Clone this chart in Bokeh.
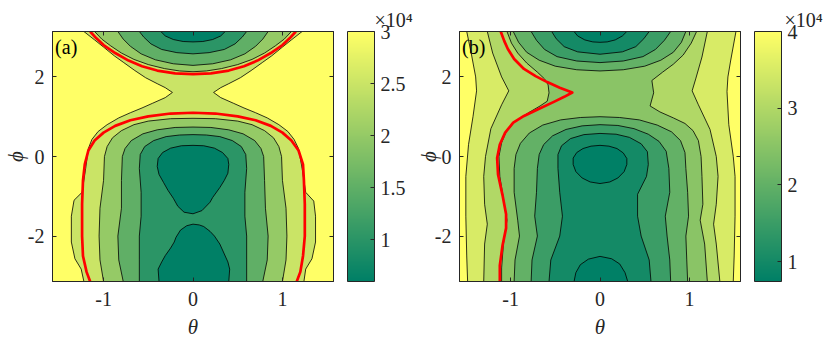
import numpy as np
from bokeh.plotting import figure
from bokeh.models import ColorBar, LinearColorMapper, FixedTicker, LinearAxis, Label, Range1d
from bokeh.layouts import row
from bokeh.embed import file_html
from bokeh.resources import INLINE

PI = float(np.pi)

# ---------------- panel (a): contour lines (theta, phi) ----------------
A_VMIN, A_VMAX = 0.6, 3.0
A_CB_TICKS = [1.0, 1.5, 2.0, 2.5, 3.0]
A_CB_LABELS = ["1", "1.5", "2", "2.5", "3"]

A_30_L = [(-1.22, PI), (-1.10, 2.93), (-1.00, 2.75), (-0.88, 2.53), (-0.78, 2.37), (-0.65, 2.16),
          (-0.53, 1.98), (-0.40, 1.83), (-0.31, 1.73), (-0.23, 1.61), (-0.31, 1.48), (-0.45, 1.34),
          (-0.57, 1.22), (-0.70, 1.10), (-0.83, 0.97), (-0.96, 0.80), (-1.06, 0.63), (-1.13, 0.43),
          (-1.17, 0.20), (-1.20, -0.30), (-1.24, -0.90), (-1.33, -1.10), (-1.36, -1.50), (-1.36, -2.15),
          (-1.32, -2.57), (-1.25, -2.83), (-1.22, -PI)]
A_30_R = [(1.22, PI), (1.10, 2.93), (1.00, 2.75), (0.88, 2.53), (0.78, 2.37), (0.65, 2.16),
          (0.53, 1.98), (0.40, 1.83), (0.31, 1.73), (0.23, 1.61), (0.31, 1.48), (0.45, 1.34),
          (0.57, 1.22), (0.70, 1.10), (0.83, 0.97), (0.96, 0.80), (1.06, 0.63), (1.13, 0.43),
          (1.18, 0.20), (1.22, -0.30), (1.26, -0.90), (1.35, -1.12), (1.37, -1.50), (1.37, -2.15),
          (1.33, -2.57), (1.26, -2.83), (1.24, -PI)]
A_25_TOP = [(-1.10, PI), (-1.02, 2.95), (-0.92, 2.78), (-0.80, 2.60), (-0.66, 2.44), (-0.50, 2.31),
            (-0.32, 2.21), (-0.15, 2.15), (0.0, 2.13), (0.15, 2.15), (0.32, 2.21), (0.50, 2.31),
            (0.66, 2.44), (0.80, 2.60), (0.92, 2.78), (1.02, 2.95), (1.10, PI)]
A_20_TOP = [(-0.84, PI), (-0.78, 2.95), (-0.70, 2.77), (-0.58, 2.58), (-0.42, 2.43), (-0.22, 2.33),
            (0.0, 2.29), (0.22, 2.33), (0.42, 2.43), (0.58, 2.58), (0.70, 2.77), (0.78, 2.95), (0.84, PI)]
A_15_TOP = [(-0.60, PI), (-0.55, 3.00), (-0.47, 2.83), (-0.35, 2.69), (-0.18, 2.61), (0.0, 2.58),
            (0.18, 2.61), (0.35, 2.69), (0.47, 2.83), (0.55, 3.00), (0.60, PI)]
A_10_TOP = [(-0.36, PI), (-0.31, 3.03), (-0.22, 2.94), (-0.11, 2.89), (0.0, 2.88), (0.11, 2.89),
            (0.22, 2.94), (0.31, 3.03), (0.36, PI)]
A_25_MAIN = [(-1.00, -PI), (-1.04, -2.6), (-1.05, -2.0), (-1.04, -1.3), (-1.00, -0.6), (-0.99, 0.0),
             (-0.96, 0.25), (-0.90, 0.47), (-0.80, 0.65), (-0.66, 0.80), (-0.50, 0.89), (-0.25, 0.95),
             (0.0, 0.96), (0.25, 0.95), (0.50, 0.89), (0.66, 0.80), (0.80, 0.65), (0.90, 0.47),
             (0.96, 0.25), (0.99, 0.0), (1.00, -0.6), (1.04, -1.3), (1.05, -2.0), (1.04, -2.6), (1.00, -PI)]
A_20_MAIN = [(-0.78, -PI), (-0.83, -2.6), (-0.84, -2.0), (-0.80, -1.3), (-0.80, -0.6), (-0.79, 0.0),
             (-0.76, 0.20), (-0.69, 0.40), (-0.56, 0.57), (-0.40, 0.67), (-0.20, 0.73), (0.0, 0.74),
             (0.20, 0.73), (0.40, 0.67), (0.56, 0.57), (0.69, 0.40), (0.76, 0.20), (0.79, 0.0),
             (0.80, -0.6), (0.81, -1.3), (0.84, -2.0), (0.83, -2.6), (0.78, -PI)]
A_15_MAIN = [(-0.60, -PI), (-0.60, -2.6), (-0.60, -2.0), (-0.58, -1.5), (-0.58, -0.9), (-0.60, -0.3),
             (-0.59, 0.05), (-0.54, 0.25), (-0.44, 0.40), (-0.30, 0.50), (-0.15, 0.54), (0.0, 0.55),
             (0.15, 0.54), (0.30, 0.50), (0.44, 0.40), (0.54, 0.25), (0.59, 0.05), (0.60, -0.3),
             (0.58, -0.9), (0.58, -1.5), (0.60, -2.0), (0.60, -2.6), (0.60, -PI)]
A_10_UP = [(0.0, 0.28), (0.12, 0.27), (0.24, 0.21), (0.33, 0.10), (0.39, -0.05), (0.40, -0.20),
           (0.39, -0.42), (0.35, -0.60), (0.30, -0.78), (0.22, -1.03), (0.19, -1.15), (0.10, -1.36),
           (0.0, -1.44), (-0.10, -1.40), (-0.17, -1.25), (-0.22, -1.05), (-0.28, -0.85), (-0.33, -0.65),
           (-0.38, -0.45), (-0.40, -0.25), (-0.39, -0.05), (-0.34, 0.10), (-0.25, 0.21), (-0.13, 0.27),
           (0.0, 0.28)]
A_10_LOW = [(-0.38, -PI), (-0.39, -2.83), (-0.35, -2.65), (-0.31, -2.49), (-0.25, -2.30), (-0.21, -2.15),
            (-0.19, -2.03), (-0.14, -1.85), (-0.07, -1.74), (0.0, -1.70), (0.07, -1.72), (0.12, -1.76),
            (0.19, -1.88), (0.24, -2.00), (0.30, -2.20), (0.35, -2.45), (0.39, -2.65), (0.41, -2.83),
            (0.40, -PI)]
A_RED_TOP = [(-1.15, PI), (-1.08, 2.97), (-1.00, 2.80), (-0.87, 2.60), (-0.72, 2.41), (-0.57, 2.27),
             (-0.40, 2.16), (-0.20, 2.09), (0.0, 2.07), (0.20, 2.09), (0.40, 2.16), (0.57, 2.27),
             (0.72, 2.41), (0.87, 2.60), (1.00, 2.80), (1.08, 2.97), (1.15, PI)]
A_RED_MAIN = [(-1.15, -PI), (-1.19, -2.9), (-1.23, -2.5), (-1.24, -2.0), (-1.24, -1.2), (-1.23, -0.6),
              (-1.21, -0.2), (-1.17, 0.15), (-1.10, 0.40), (-1.00, 0.60), (-0.87, 0.77), (-0.70, 0.91),
              (-0.50, 1.01), (-0.25, 1.08), (0.0, 1.10), (0.25, 1.08), (0.50, 1.01), (0.70, 0.91),
              (0.87, 0.77), (1.00, 0.60), (1.10, 0.40), (1.18, 0.15), (1.23, -0.2), (1.24, -0.6),
              (1.25, -1.2), (1.25, -2.0), (1.23, -2.5), (1.20, -2.9), (1.16, -PI)]

# ---------------- panel (b) ----------------
B_VMIN, B_VMAX = 0.74, 4.0
B_CB_TICKS = [1.0, 2.0, 3.0, 4.0]
B_CB_LABELS = ["1", "2", "3", "4"]

B_40_L = [(-1.49, PI), (-1.44, 2.6), (-1.39, 2.0), (-1.38, 1.65), (-1.42, 1.0), (-1.47, 0.3),
          (-1.50, -0.5), (-1.50, -1.5), (-1.49, -2.5), (-1.48, -PI)]
B_40_R = [(1.52, PI), (1.46, 2.4), (1.43, 2.0), (1.42, 1.63), (1.44, 0.8), (1.49, 0.0),
          (1.51, -0.5), (1.51, -1.5), (1.50, -2.5), (1.49, -PI)]
B_35_L = [(-1.26, PI), (-1.20, 2.6), (-1.10, 2.0), (-1.02, 1.65), (-1.10, 1.3), (-1.22, 0.7),
          (-1.28, 0.0), (-1.30, -0.5), (-1.29, -1.2), (-1.26, -1.7), (-1.29, -2.2), (-1.30, -PI)]
B_35_R = [(1.20, PI), (1.14, 2.5), (1.07, 1.95), (1.03, 1.65), (1.10, 1.3), (1.23, 0.68),
          (1.30, 0.0), (1.32, -0.5), (1.30, -1.2), (1.27, -1.7), (1.30, -2.2), (1.34, -PI)]
B_30_L = [(-1.04, PI), (-0.99, 2.85), (-0.92, 2.60), (-0.82, 2.35), (-0.70, 2.12), (-0.62, 1.95),
          (-0.58, 1.80), (-0.57, 1.60), (-0.59, 1.39), (-0.67, 1.27), (-0.80, 1.10), (-0.95, 0.88),
          (-1.05, 0.62), (-1.10, 0.35), (-1.13, 0.0), (-1.12, -0.5), (-1.07, -1.2), (-1.04, -1.6),
          (-1.08, -2.2), (-1.10, -2.8), (-1.10, -PI)]
B_30_R = [(1.08, PI), (1.02, 2.85), (0.93, 2.55), (0.82, 2.32), (0.70, 2.12), (0.58, 1.91),
          (0.60, 1.60), (0.56, 1.27), (0.67, 1.12), (0.82, 0.97), (0.95, 0.83), (1.04, 0.65),
          (1.10, 0.40), (1.13, 0.0), (1.14, -0.5), (1.15, -1.2), (1.12, -1.6), (1.17, -2.2), (1.20, -PI)]
B_25_TOP = [(-0.97, PI), (-0.91, 2.87), (-0.82, 2.62), (-0.68, 2.42), (-0.50, 2.27), (-0.26, 2.18),
            (0.0, 2.15), (0.26, 2.18), (0.50, 2.27), (0.68, 2.42), (0.82, 2.62), (0.91, 2.87), (0.96, PI)]
B_20_TOP = [(-0.77, PI), (-0.71, 2.92), (-0.62, 2.69), (-0.48, 2.51), (-0.26, 2.40), (0.0, 2.36),
            (0.26, 2.40), (0.48, 2.51), (0.62, 2.69), (0.72, 2.92), (0.79, PI)]
B_15_TOP = [(-0.54, PI), (-0.49, 2.96), (-0.40, 2.76), (-0.25, 2.63), (0.0, 2.57), (0.25, 2.63),
            (0.40, 2.76), (0.49, 2.96), (0.55, PI)]
B_10_TOP = [(-0.29, PI), (-0.25, 3.03), (-0.17, 2.93), (-0.08, 2.88), (0.0, 2.87), (0.08, 2.88),
            (0.17, 2.93), (0.25, 3.03), (0.30, PI)]
B_25_MAIN = [(-0.96, -PI), (-0.95, -2.6), (-0.90, -2.0), (-0.92, -1.6), (-0.96, -0.9), (-0.96, -0.3),
             (-0.94, 0.05), (-0.89, 0.33), (-0.79, 0.59), (-0.64, 0.79), (-0.44, 0.92), (-0.22, 0.98),
             (0.0, 1.00), (0.22, 0.98), (0.44, 0.92), (0.64, 0.79), (0.80, 0.62), (0.90, 0.40),
             (0.95, 0.10), (0.96, -0.3), (0.98, -0.9), (0.99, -1.5), (0.96, -2.0), (0.97, -2.6), (0.98, -PI)]
B_20_MAIN = [(-0.77, -PI), (-0.76, -2.6), (-0.70, -2.0), (-0.73, -1.5), (-0.71, -0.9), (-0.70, -0.3),
             (-0.68, 0.05), (-0.63, 0.30), (-0.53, 0.52), (-0.38, 0.68), (-0.20, 0.77), (0.0, 0.80),
             (0.20, 0.78), (0.38, 0.70), (0.54, 0.56), (0.66, 0.38), (0.74, 0.13), (0.77, -0.3),
             (0.78, -0.9), (0.73, -1.5), (0.75, -2.0), (0.78, -2.6), (0.79, -PI)]
B_15_MAIN = [(-0.57, -PI), (-0.55, -2.6), (-0.45, -2.0), (-0.42, -1.5), (-0.45, -0.9), (-0.47, -0.3),
             (-0.47, 0.05), (-0.43, 0.27), (-0.33, 0.45), (-0.18, 0.55), (0.0, 0.58), (0.18, 0.56),
             (0.33, 0.48), (0.46, 0.32), (0.53, 0.12), (0.54, -0.2), (0.52, -0.5), (0.42, -0.95),
             (0.42, -1.5), (0.46, -2.0), (0.55, -2.6), (0.57, -PI)]
B_10_BLOB = [(0.0, 0.28), (0.10, 0.26), (0.19, 0.20), (0.26, 0.09), (0.30, -0.05), (0.30, -0.20),
             (0.27, -0.38), (0.20, -0.54), (0.11, -0.64), (0.0, -0.68), (-0.11, -0.64), (-0.20, -0.54),
             (-0.27, -0.38), (-0.30, -0.20), (-0.30, -0.04), (-0.26, 0.10), (-0.19, 0.20), (-0.10, 0.26),
             (0.0, 0.28)]
B_10_BOT = [(-0.29, -PI), (-0.27, -2.92), (-0.22, -2.72), (-0.13, -2.58), (0.0, -2.51), (0.13, -2.57),
            (0.22, -2.70), (0.28, -2.92), (0.31, -PI)]
B_RED = [(-1.11, PI), (-1.07, 2.90), (-1.03, 2.70), (-0.96, 2.45), (-0.85, 2.20), (-0.72, 2.02),
         (-0.59, 1.87), (-0.45, 1.73), (-0.31, 1.61), (-0.40, 1.50), (-0.51, 1.38), (-0.68, 1.20),
         (-0.85, 1.02), (-0.97, 0.85), (-1.06, 0.60), (-1.12, 0.30), (-1.15, -0.04), (-1.14, -0.45),
         (-1.09, -0.97), (-1.05, -1.45), (-1.05, -1.80), (-1.09, -2.24), (-1.12, -2.74), (-1.12, -PI)]

FONT = "Liberation Serif"
INK = "#262626"
FW, FH = 281, 250                      # frame size in px
XU, YU = FW / PI, FH / (2 * PI)        # px per data unit


def summer(v, vmin, vmax):
    t = min(max((v - vmin) / (vmax - vmin), 0.0), 1.0)
    return "#%02x%02x%02x" % (round(t * 255), round((0.5 + 0.5 * t) * 255), round(0.4 * 255))


def xs_of(pts):
    return [q[0] for q in pts]


def ys_of(pts):
    return [q[1] for q in pts]


def band(left, right):
    return list(left) + list(reversed(right))


def make_panel(tag, fills, blacks, reds, vmin, vmax, cb_ticks, cb_labels,
               border_left, border_right, y_label_standoff, title_offset):
    p = figure(frame_width=FW, frame_height=FH, x_range=Range1d(-PI / 2, PI / 2),
               y_range=Range1d(-PI, PI), output_backend="svg", toolbar_location=None,
               min_border_left=border_left, min_border_right=border_right, min_border_top=31,
               min_border_bottom=60)
    p.grid.visible = False
    p.outline_line_color = INK
    p.background_fill_color = summer(vmax, vmin, vmax)
    p.border_fill_color = "white"

    # colour-bar exponent, placed above the colour bar
    p.title.text = "×10⁴"
    p.title.align = "left"
    p.title.offset = title_offset
    p.title.standoff = 1
    p.title.text_font = FONT
    p.title.text_font_size = "20px"
    p.title.text_font_style = "normal"
    p.title.text_color = INK

    for level, polys, lowest in fills:
        c = summer(vmin if lowest else level - 0.5, vmin, vmax)
        p.patches([xs_of(q) for q in polys], [ys_of(q) for q in polys],
                  fill_color=c, line_color=None)
    p.multi_line([xs_of(q) for q in blacks], [ys_of(q) for q in blacks],
                 line_color="black", line_width=0.8)
    for r in reds:
        p.line(xs_of(r), ys_of(r), line_color="#ff0000", line_width=2.7, line_join="round")

    xt = [-1, 0, 1]
    yt = [-2, 0, 2]
    xb = p.below[0]
    yl = p.left[0]
    xb.ticker = FixedTicker(ticks=xt)
    yl.ticker = FixedTicker(ticks=yt)
    xb.major_label_overrides = {-1: "-1", 0: "0", 1: "1"}
    yl.major_label_overrides = {-2: "-2", 0: "0", 2: "2"}
    top = LinearAxis(ticker=FixedTicker(ticks=xt), major_label_text_font_size="0px",
                     major_label_text_color=None, major_label_standoff=0)
    # right axis: tick marks only (blank labels); its extent leaves the gap before the colour bar
    right = LinearAxis(ticker=FixedTicker(ticks=yt),
                       major_label_overrides={-2: "\u2002", 0: "\u2002", 2: "\u2002"},
                       major_label_text_font_size="20px", major_label_text_color=INK,
                       major_label_standoff=1)
    p.add_layout(top, "above")
    p.add_layout(right, "right")
    for ax in (xb, yl, top, right):
        ax.major_tick_in = 4
        ax.major_tick_out = 0
        ax.minor_tick_line_color = None
        ax.axis_line_color = INK
        ax.major_tick_line_color = INK
    for ax in (xb, yl):
        ax.major_label_text_font = FONT
        ax.major_label_text_font_size = "20px"
        ax.major_label_text_color = INK
        ax.axis_label_text_font = FONT
        ax.axis_label_text_font_style = "italic"
        ax.axis_label_text_font_size = "21px"
        ax.axis_label_text_color = INK
    xb.major_label_standoff = 10
    yl.major_label_standoff = 8
    xb.axis_label = "θ"
    yl.axis_label = "ϕ"
    xb.axis_label_standoff = 6
    yl.axis_label_standoff = y_label_standoff

    pal = [summer(vmin + (vmax - vmin) * i / 255, vmin, vmax) for i in range(256)]
    mapper = LinearColorMapper(palette=pal, low=vmin, high=vmax)
    cb = ColorBar(color_mapper=mapper, ticker=FixedTicker(ticks=cb_ticks),
                  major_label_overrides={t: s for t, s in zip(cb_ticks, cb_labels)},
                  width=27, height=FH, padding=0, margin=0,
                  major_tick_in=4, major_tick_out=0, major_tick_line_color=INK,
                  minor_tick_line_color=None,
                  bar_line_color=INK, label_standoff=6,
                  major_label_text_font=FONT, major_label_text_font_size="20px",
                  major_label_text_color=INK, border_line_color=None)
    p.add_layout(cb, "right")

    x0, y0 = -PI / 2, PI
    p.add_layout(Label(x=x0 + 2.6 / XU, y=y0 - 4.5 / YU, text=tag, text_baseline="top",
                       text_font=FONT, text_font_size="20px", text_color="black"))
    return p


a_fills = [
    (3.0, [band(A_30_L, A_30_R)], False),
    (2.5, [A_25_TOP, A_25_MAIN], False),
    (2.0, [A_20_TOP, A_20_MAIN], False),
    (1.5, [A_15_TOP, A_15_MAIN], False),
    (1.0, [A_10_TOP, A_10_UP, A_10_LOW], True),
]
a_blacks = [A_30_L, A_30_R, A_25_TOP, A_20_TOP, A_15_TOP, A_10_TOP, A_25_MAIN, A_20_MAIN,
            A_15_MAIN, A_10_UP, A_10_LOW]
pa = make_panel("(a)", a_fills, a_blacks, [A_RED_TOP, A_RED_MAIN], A_VMIN, A_VMAX,
                A_CB_TICKS, A_CB_LABELS, 51, 80, -3, 322)

b_fills = [
    (4.0, [band(B_40_L, B_40_R)], False),
    (3.5, [band(B_35_L, B_35_R)], False),
    (3.0, [band(B_30_L, B_30_R)], False),
    (2.5, [B_25_TOP, B_25_MAIN], False),
    (2.0, [B_20_TOP, B_20_MAIN], False),
    (1.5, [B_15_TOP, B_15_MAIN], False),
    (1.0, [B_10_TOP, B_10_BLOB, B_10_BOT], True),
]
b_blacks = [B_40_L, B_40_R, B_35_L, B_35_R, B_30_L, B_30_R, B_25_TOP, B_20_TOP, B_15_TOP, B_10_TOP,
            B_25_MAIN, B_20_MAIN, B_15_MAIN, B_10_BLOB, B_10_BOT]
pb = make_panel("(b)", b_fills, b_blacks, [B_RED], B_VMIN, B_VMAX, B_CB_TICKS, B_CB_LABELS,
                45, 86, -9, 325)

layout = row(pa, pb, spacing=0)
open("out.html", "w").write(file_html(layout, INLINE))
